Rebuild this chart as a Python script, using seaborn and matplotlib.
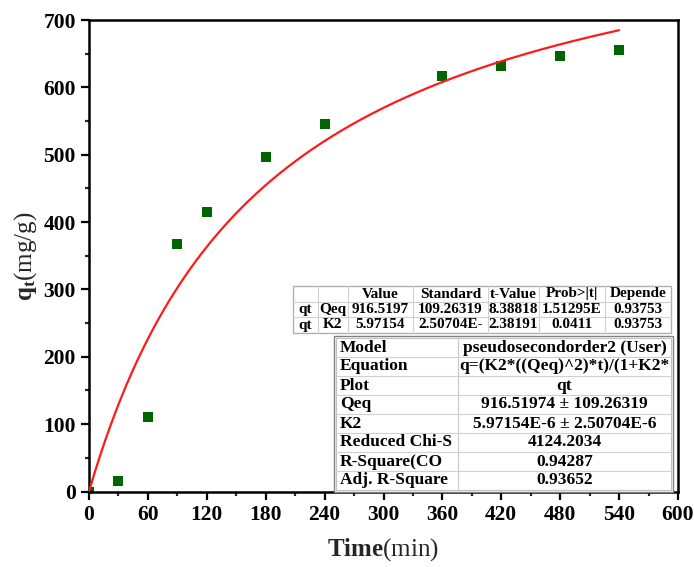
import numpy as np
import pandas as pd
import seaborn as sns
import matplotlib
matplotlib.use("Agg")
import matplotlib.pyplot as plt
from matplotlib.lines import Line2D
from matplotlib.patches import Rectangle
from matplotlib.ticker import MultipleLocator

# Measured adsorption capacity over time
time_min = [0, 30, 60, 90, 120, 180, 240, 360, 420, 480, 540]
qt_mg_g = [0, 15, 110, 367, 415, 496, 545, 617, 632, 646, 655]

# Fitted pseudo-second-order parameters
Qeq = 916.51974
K2 = 5.97154e-6

x_ticks = [0, 60, 120, 180, 240, 300, 360, 420, 480, 540, 600]
y_ticks = [0, 100, 200, 300, 400, 500, 600, 700]

# Parameter table
param_header = ["", "", "Value", "Standard", "t-Value", "Prob>|t|", "Depende"]
param_rows = [
    ["qt", "Qeq", "916.5197", "109.26319", "8.38818", "1.51295E", "0.93753"],
    ["qt", "K2", "5.97154", "2.50704E-", "2.38191", "0.0411", "0.93753"],
]

# Fit summary table
summary_keys = ["Model", "Equation", "Plot", "Qeq", "K2",
                "Reduced Chi-S", "R-Square(CO", "Adj. R-Square"]
summary_vals = ["pseudosecondorder2 (User)", "q=(K2*((Qeq)^2)*t)/(1+K2*",
                "qt", "916.51974 \u00b1 109.26319", "5.97154E-6 \u00b1 2.50704E-6",
                "4124.2034", "0.94287", "0.93652"]

sns.set_theme(style="white")
plt.rcParams["font.family"] = ["Liberation Serif", "DejaVu Serif"]
plt.rcParams["mathtext.fontset"] = "custom"
plt.rcParams["mathtext.rm"] = "Liberation Serif"
plt.rcParams["mathtext.bf"] = "Liberation Serif:bold"
plt.rcParams["mathtext.it"] = "Liberation Serif:italic"

W, H = 694, 567
fig = plt.figure(figsize=(W / 100, H / 100), dpi=100)
ax = fig.add_axes([89 / W, 1 - 491.5 / H, (678 - 89) / W, (491.5 - 20) / H])

t_fit = np.linspace(0, 540, 400)
q_fit = K2 * Qeq ** 2 * t_fit / (1 + K2 * Qeq * t_fit)
fit_df = pd.DataFrame({"t": t_fit, "q": q_fit})
data_df = pd.DataFrame({"t": time_min, "q": qt_mg_g})

sns.scatterplot(data=data_df, x="t", y="q", marker="s", s=60, color="#006400",
                edgecolor="#006400", linewidth=0, ax=ax, zorder=2)
sns.lineplot(data=fit_df, x="t", y="q", color="#ff1a1a", linewidth=1.6, ax=ax, zorder=3)

ax.set_xlim(0, 600)
ax.set_ylim(0, 700)
ax.set_xticks(x_ticks)
ax.set_yticks(y_ticks)
ax.xaxis.set_minor_locator(MultipleLocator(30))
ax.yaxis.set_minor_locator(MultipleLocator(50))
ax.tick_params(which="major", direction="out", length=5.5, width=1.6,
               labelsize=15.5, pad=4, bottom=True, left=True, colors="black")
ax.tick_params(which="minor", direction="out", length=3, width=1.6,
               bottom=True, left=True)
for lab in ax.get_xticklabels() + ax.get_yticklabels():
    lab.set_fontweight("bold")
for sp in ax.spines.values():
    sp.set_linewidth(1.8)
    sp.set_color("black")

ax.set_xlabel(r"$\mathbf{Time}$(min)", fontsize=18, labelpad=8)
ax.set_ylabel(r"$\mathbf{q_t}$(mg/g)", fontsize=18, labelpad=3)


def fx(px):
    return px / W


def fy(py):
    return 1 - py / H


def hline(x0, x1, y, color, lw):
    fig.add_artist(Line2D([fx(x0), fx(x1)], [fy(y), fy(y)], color=color, lw=lw,
                          transform=fig.transFigure, zorder=6))


def vline(x, y0, y1, color, lw):
    fig.add_artist(Line2D([fx(x), fx(x)], [fy(y0), fy(y1)], color=color, lw=lw,
                          transform=fig.transFigure, zorder=6))


def box(x0, y0, x1, y1, edge, lw):
    fig.add_artist(Rectangle((fx(x0), fy(y1)), fx(x1) - fx(x0), fy(y0) - fy(y1),
                             transform=fig.transFigure, facecolor="white",
                             edgecolor=edge, lw=lw, zorder=5))


# Parameter table
c1 = [293, 318, 348, 413, 488, 539, 605, 671]
r1 = [286, 302, 317, 333]
box(c1[0], r1[0], c1[-1], r1[-1], "#b0b0b0", 1.0)
for x in c1[1:-1]:
    vline(x, r1[0], r1[-1], "#d0d0d0", 0.8)
for y in r1[1:-1]:
    hline(c1[0], c1[-1], y, "#d0d0d0", 0.8)
for ri, row in enumerate([param_header] + param_rows):
    yc = (r1[ri] + r1[ri + 1]) / 2
    for ci, txt in enumerate(row):
        xc = (c1[ci] + c1[ci + 1]) / 2
        fig.text(fx(xc), fy(yc), txt, ha="center", va="center", fontsize=11,
                 fontweight="bold", color="black", zorder=7)

# Fit summary table
c2 = [336, 458, 671]
r2 = [338 + 19 * i for i in range(9)]
box(c2[0] - 2, r2[0] - 2, c2[-1] + 2, r2[-1] + 2, "#808080", 1.0)
box(c2[0], r2[0], c2[-1], r2[-1], "#c0c0c0", 0.8)
vline(c2[1], r2[0], r2[-1], "#c8c8c8", 0.8)
for y in r2[1:-1]:
    hline(c2[0], c2[-1], y, "#d0d0d0", 0.8)
for ri, (k, v) in enumerate(zip(summary_keys, summary_vals)):
    yc = (r2[ri] + r2[ri + 1]) / 2
    fig.text(fx(c2[0] + 4), fy(yc), k, ha="left", va="center", fontsize=12.5,
             fontweight="bold", color="black", zorder=7)
    fig.text(fx((c2[1] + c2[2]) / 2), fy(yc), v, ha="center", va="center",
             fontsize=12.5, fontweight="bold", color="black", zorder=7)

fig.savefig("out.png", dpi=100, facecolor="white")
